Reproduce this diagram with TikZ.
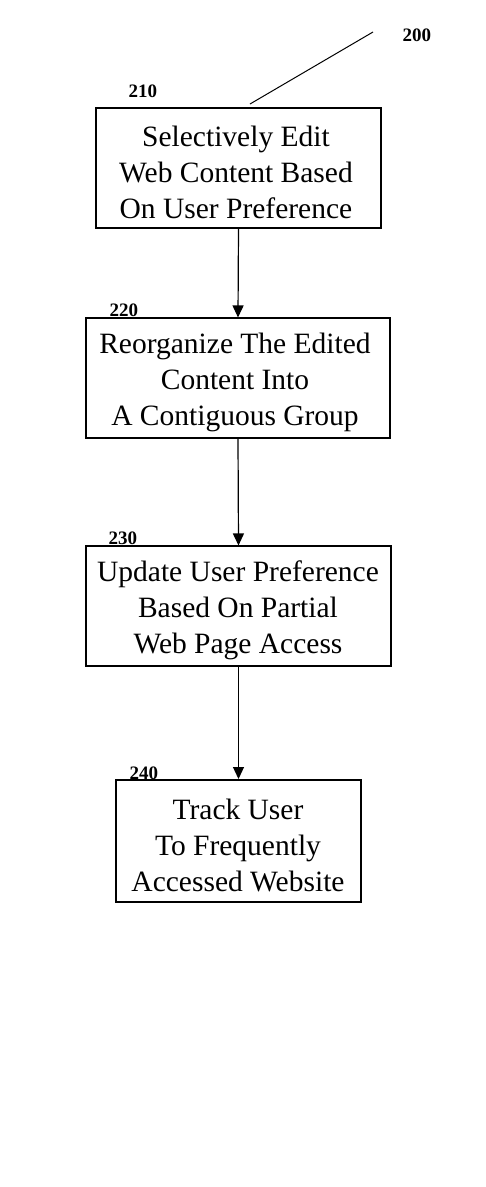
\documentclass[tikz,border=0pt]{standalone}
\usepackage{fontspec}
\setmainfont{Liberation Serif}
\usetikzlibrary{arrows.meta}
\begin{document}
\begin{tikzpicture}[x=1pt,y=-1pt,
  stepbox/.style={draw,line width=1.1pt,inner sep=0pt},
  steptext/.style={align=center,inner sep=0pt,font=\fontsize{29.5}{36}\selectfont},
  reflabel/.style={font=\bfseries\fontsize{19}{20}\selectfont,anchor=base west},
  flow/.style={line width=1.2pt,-{Triangle[length=12pt,width=11pt]}}]
\useasboundingbox (0,0) rectangle (485,1187);
\node[stepbox,minimum width=285pt,minimum height=120pt] (s210) at (238.5,168) {};
\node[stepbox,minimum width=304pt,minimum height=120pt] (s220) at (238,378) {};
\node[stepbox,minimum width=305pt,minimum height=120pt] (s230) at (238.5,606) {};
\node[stepbox,line width=2pt,minimum width=245pt,minimum height=122pt] (s240) at (238.5,841) {};
\node[steptext] (t210) at (236,172) {Selectively Edit\\Web Content Based\\On User Preference};
\node[steptext] (t220) at (235,382) {Reorganize The Edited\\Content Into\\A Contiguous Group};
\node[steptext] (t230) at (238,610) {Update User Preference\\Based On Partial\\Web Page Access};
\node[steptext] (t240) at (238,845) {Track User\\To Frequently\\Accessed Website};
\draw[flow] (s210.south) -- (s220.north);
\draw[flow] (s220.south) -- (s230.north);
\draw[flow] (s230.south) -- (s240.north);
\node[reflabel] (l200) at (399,41) {200};
\node[reflabel] (l210) at (125,97) {210};
\node[reflabel] (l220) at (106,316) {220};
\node[reflabel] (l230) at (105,544) {230};
\node[reflabel] (l240) at (126,779) {240};
\coordinate (lead) at (373,32);
\draw[line width=1pt] (lead) -- (250,104);
\end{tikzpicture}
\end{document}
